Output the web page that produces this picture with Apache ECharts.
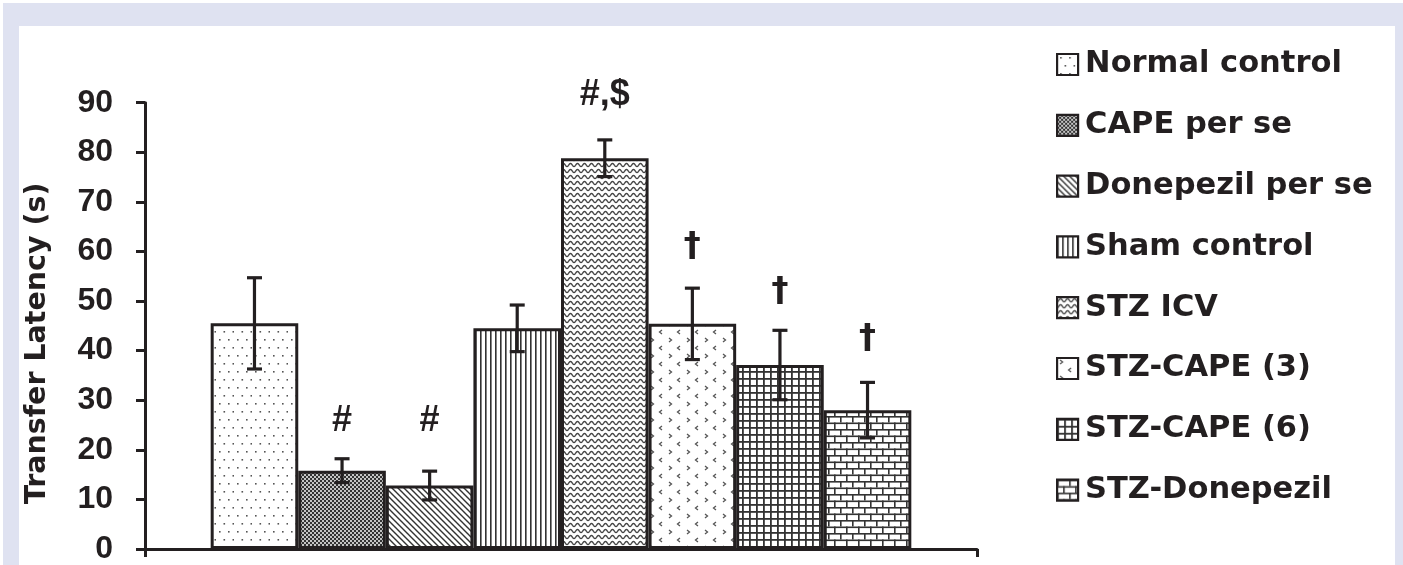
<!DOCTYPE html>
<html><head><meta charset="utf-8">
<script src="https://cdn.jsdelivr.net/npm/echarts@6/dist/echarts.min.js"></script>
<style>html,body{margin:0;padding:0;background:#fff}#chart{width:1403px;height:565px}</style>
</head><body><div id="chart"></div>
<script>
// ---- data ----
const groups = ['Normal control','CAPE per se','Donepezil per se','Sham control','STZ ICV','STZ-CAPE (3)','STZ-CAPE (6)','STZ-Donepezil'];
const meanLatency = [45.5, 15.8, 12.8, 44.5, 78.8, 45.4, 37.1, 28.0];
const semLatency  = [9.2, 2.4, 2.9, 4.7, 3.7, 7.2, 7.0, 5.6];
const significance  = ['', '#', '#', '', '#,$', '\u2020', '\u2020', '\u2020'];
const significanceY = [null, 25.7, 25.7, null, 91.5, 60.9, 51.7, 42.3];
const yTickValues = [0,10,20,30,40,50,60,70,80,90];

// ---- patterns ----
function makePattern(w, h, draw) {
  const c = document.createElement('canvas'); c.width = w; c.height = h;
  const g = c.getContext('2d'); g.fillStyle = '#fff'; g.fillRect(0, 0, w, h);
  draw(g, w, h);
  return { image: c, repeat: 'repeat' };
}
const INK = '#231f20';
const patterns = [
  makePattern(18, 16, g => { g.fillStyle = '#555'; [[3,3],[12,3],[7.5,11],[16.5,11]].forEach(p => g.fillRect(p[0], p[1], 1.6, 1.6)); }),
  makePattern(4, 4, g => { g.fillStyle = '#c4c4c4'; g.fillRect(0,0,4,4); g.fillStyle = '#333'; g.fillRect(0,0,2,2); g.fillRect(2,2,2,2); }),
  makePattern(6, 6, g => { g.strokeStyle = '#333'; g.lineWidth = 1.4; g.beginPath(); g.moveTo(-1,-1); g.lineTo(7,7); g.moveTo(-1,5); g.lineTo(1,7); g.moveTo(5,-1); g.lineTo(7,1); g.stroke(); }),
  makePattern(5, 4, g => { g.fillStyle = '#333'; g.fillRect(0, 0, 1.6, 4); }),
  makePattern(7, 6, g => { g.strokeStyle = '#444'; g.lineWidth = 1.4; g.beginPath();
    for (let x = -0.5; x <= 7.5; x += 0.5) { const y = 3 + 1.5 * Math.cos(2 * Math.PI * x / 7); if (x === -0.5) g.moveTo(x, y); else g.lineTo(x, y); } g.stroke(); }),
  makePattern(18, 16, g => { g.strokeStyle = '#555'; g.lineWidth = 1.3; g.beginPath();
    g.moveTo(3,2); g.lineTo(5.5,4); g.lineTo(3,6);
    g.moveTo(14,10); g.lineTo(11.5,12); g.lineTo(14,14); g.stroke(); }),
  makePattern(7, 7, g => { g.fillStyle = '#333'; g.fillRect(0, 0, 7, 1.8); g.fillRect(0, 0, 1.8, 7); }),
  makePattern(12, 13, g => { g.fillStyle = '#333'; g.fillRect(0, 0, 12, 1.6); g.fillRect(0, 6.5, 12, 1.6); g.fillRect(0, 0, 1.6, 6.5); g.fillRect(6, 6.5, 1.6, 6.5); })
];

// layout helper: bars span [0.75, 8.75] of a 0..9.5 hidden value axis
const sideMargin = 0.75;
const xSpan = groups.length + 2 * sideMargin;
const barCenter = i => sideMargin + 0.5 + i;

const barSeries = groups.map((name, i) => ({
  name, type: 'bar', xAxisIndex: 0, yAxisIndex: 0,
  data: [meanLatency[i]],
  barGap: '0%', barCategoryGap: (2 * sideMargin / xSpan * 100).toFixed(3) + '%',
  itemStyle: { color: patterns[i], borderColor: INK, borderWidth: 3 },
  emphasis: { disabled: true }, silent: true, z: 2
}));

const errorSeries = {
  type: 'custom', xAxisIndex: 1, yAxisIndex: 0, silent: true, z: 5,
  data: meanLatency.map((m, i) => [barCenter(i), m - semLatency[i], m + semLatency[i]]),
  renderItem: (params, api) => {
    const x = api.value(0);
    const lo = api.coord([x, api.value(1)]);
    const hi = api.coord([x, api.value(2)]);
    const hw = 7.5;
    const st = { stroke: INK, lineWidth: 3.2 };
    return { type: 'group', children: [
      { type: 'line', shape: { x1: lo[0], y1: lo[1], x2: hi[0], y2: hi[1] }, style: st },
      { type: 'line', shape: { x1: lo[0] - hw, y1: lo[1], x2: lo[0] + hw, y2: lo[1] }, style: st },
      { type: 'line', shape: { x1: hi[0] - hw, y1: hi[1], x2: hi[0] + hw, y2: hi[1] }, style: st }
    ]};
  }
};

const labelItems = significance.map((s, i) => ({ text: s, value: [barCenter(i), significanceY[i]] })).filter(d => d.text);
const labelSeries = {
  type: 'custom', xAxisIndex: 1, yAxisIndex: 0, silent: true, z: 6, clip: false,
  data: labelItems.map(d => d.value),
  renderItem: (params, api) => {
    const p = api.coord([api.value(0), api.value(1)]);
    const t = labelItems[params.dataIndex].text;
    const font = t === '\u2020' ? 'bold 34px "DejaVu Sans", sans-serif' : 'bold 36px "Liberation Sans", Arial, sans-serif';
    return { type: 'text', x: p[0], y: p[1], style: {
      text: t, fill: INK, font: font, align: 'center', verticalAlign: 'middle' } };
  }
};

const chart = echarts.init(document.getElementById('chart'), null, { renderer: 'canvas' });
chart.setOption({
  animation: false,
  backgroundColor: '#ffffff',
  graphic: { elements: [
    { type: 'rect', z: -100, silent: true, shape: { x: 3, y: 3, width: 1400, height: 562 }, style: { fill: '#dfe2f1' } },
    { type: 'rect', z: -99, silent: true, shape: { x: 19, y: 26, width: 1376, height: 539 }, style: { fill: '#ffffff' } }
  ]},
  grid: { left: 145, right: 426, top: 102.7, bottom: 16, containLabel: false },
  legend: {
    data: groups, orient: 'vertical', left: 1051, top: 44, selectedMode: false,
    icon: 'rect', itemWidth: 21, itemHeight: 21, itemGap: 29.8,
    itemStyle: { borderColor: INK, borderWidth: 2.2 },
    textStyle: { fontFamily: 'DejaVu Sans', fontWeight: 'bold', fontSize: 30.5, color: INK, lineHeight: 30, padding: [0, 0, 0, 2] }
  },
  xAxis: [
    { type: 'category', data: [''], boundaryGap: true,
      axisLine: { show: true, lineStyle: { color: INK, width: 3 } },
      axisTick: { show: true, length: 8, lineStyle: { color: INK, width: 3 } },
      axisLabel: { show: false }, splitLine: { show: false } },
    { type: 'value', min: 0, max: xSpan, show: false, splitLine: { show: false } }
  ],
  yAxis: {
    type: 'value', min: yTickValues[0], max: yTickValues[yTickValues.length - 1], interval: yTickValues[1] - yTickValues[0],
    name: 'Transfer Latency (s)', nameLocation: 'middle', nameGap: 93, nameRotate: 90,
    nameTextStyle: { fontFamily: 'DejaVu Sans', fontWeight: 'bold', fontSize: 28.5, color: INK, padding: [0, 35, 0, 0] },
    axisLine: { show: true, lineStyle: { color: INK, width: 3 } },
    axisTick: { show: true, length: 9, lineStyle: { color: INK, width: 3 } },
    axisLabel: { fontFamily: 'Liberation Sans', fontWeight: 'bold', fontSize: 32, color: INK, margin: 32 },
    splitLine: { show: false }
  },
  series: [...barSeries, errorSeries, labelSeries]
});
</script></body></html>
